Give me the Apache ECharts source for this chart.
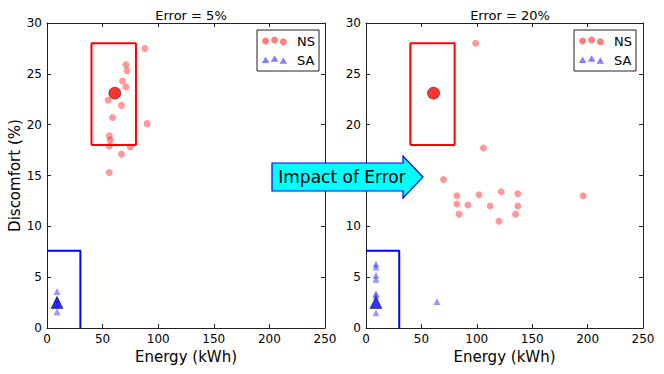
<!DOCTYPE html>
<html>
<head>
<meta charset="utf-8">
<script src="https://cdn.jsdelivr.net/npm/echarts@6/dist/echarts.min.js"></script>
<style>
  html, body { margin: 0; padding: 0; background: #fff; }
  #chart { width: 664px; height: 374px; }
</style>
</head>
<body>
<div id="chart"></div>
<script>
// panel titles / axis names
const titles = ['Error = 5%', 'Error = 20%'];
const xName = 'Energy (kWh)';
const yName = 'Discomfort (%)';

// Error = 5%
const nsLeftE = [88, 71, 72, 68, 71, 55, 67, 59, 90, 56, 57, 56, 75, 67, 56];
const nsLeftD = [27.5, 25.9, 25.3, 24.3, 23.7, 22.4, 21.9, 20.7, 20.1, 18.9, 18.5, 17.9, 17.8, 17.1, 15.3];
const saLeftE = [9, 9, 9, 9];
const saLeftD = [3.6, 2.8, 2.3, 1.6];

// Error = 20%
const nsRightE = [99, 106, 70, 82, 82, 84, 92, 102, 112, 122, 120, 137, 137, 135, 196];
const nsRightD = [28.0, 17.7, 14.6, 13.0, 12.2, 11.2, 12.1, 13.1, 12.0, 13.4, 10.5, 13.2, 12.0, 11.2, 13.0];
const saRightE = [9, 9, 9, 9, 9, 9, 9, 64];
const saRightD = [6.3, 6.0, 5.2, 4.8, 3.4, 3.2, 1.5, 2.6];

// reference points (same in both panels)
const nsRef = [61, 23.1];
const saRef = [9, 2.5];

// comfort boxes
const nsBoxE = [40, 80, 80, 40, 40];
const nsBoxD = [18, 18, 28, 28, 18];
const saBoxE = [0, 30, 30];
const saBoxD = [7.6, 7.6, 0];

// y tick hidden under the arrow on the right panel
const hiddenRightTick = 15;

const zip = (a, b) => a.map((v, i) => [v, b[i]]);

const font = 'DejaVu Sans';
const axisColor = '#222';

function mainX(i) {
  return {
    gridIndex: i, type: 'value', min: 0, max: 250, interval: 50,
    name: xName, nameLocation: 'middle', nameGap: 19,
    nameTextStyle: { fontFamily: font, fontSize: 15, color: '#000' },
    axisLine: { show: true, onZero: false, lineStyle: { color: axisColor } },
    axisTick: { inside: true, length: 4, lineStyle: { color: axisColor } },
    axisLabel: { fontFamily: font, fontSize: 12, color: '#000', margin: 5 },
    splitLine: { show: false }
  };
}
function topX(i) {
  return {
    gridIndex: i, type: 'value', min: 0, max: 250, interval: 50, position: 'top',
    axisLine: { show: true, onZero: false, lineStyle: { color: axisColor } },
    axisTick: { inside: true, length: 4, lineStyle: { color: axisColor } },
    axisLabel: { show: false }, splitLine: { show: false }
  };
}
function mainY(i) {
  return {
    gridIndex: i, type: 'value', min: 0, max: 30, interval: 5,
    name: i === 0 ? yName : '', nameLocation: 'middle', nameGap: 19, nameRotate: 90,
    nameTextStyle: { fontFamily: font, fontSize: 15, color: '#000' },
    axisLine: { show: true, onZero: false, lineStyle: { color: axisColor } },
    axisTick: { inside: true, length: 4, lineStyle: { color: axisColor } },
    axisLabel: {
      fontFamily: font, fontSize: 12, color: '#000', margin: 5,
      formatter: v => (i === 1 && v === hiddenRightTick) ? '' : String(v)
    },
    splitLine: { show: false }
  };
}
function rightY(i) {
  return {
    gridIndex: i, type: 'value', min: 0, max: 30, interval: 5, position: 'right',
    axisLine: { show: true, onZero: false, lineStyle: { color: axisColor } },
    axisTick: { inside: true, length: 4, lineStyle: { color: axisColor } },
    axisLabel: { show: false }, splitLine: { show: false }
  };
}

function panelSeries(g, nsE, nsD, saE, saD) {
  const ax = { xAxisIndex: g * 2, yAxisIndex: g * 2 };
  return [
    Object.assign({ type: 'line', data: zip(nsBoxE, nsBoxD), symbol: 'none', silent: true,
      lineStyle: { color: '#ff0000', width: 2 }, z: 2 }, ax),
    Object.assign({ type: 'line', data: zip(saBoxE, saBoxD), symbol: 'none', silent: true,
      lineStyle: { color: '#0000ff', width: 2 }, z: 2 }, ax),
    Object.assign({ type: 'scatter', data: zip(nsE, nsD), symbol: 'circle', symbolSize: 7,
      itemStyle: { color: 'rgba(255,0,0,0.5)' }, z: 3 }, ax),
    Object.assign({ type: 'scatter', data: zip(saE, saD), symbol: 'triangle', symbolSize: 7,
      itemStyle: { color: 'rgba(0,0,255,0.5)' }, z: 3 }, ax),
    Object.assign({ type: 'scatter', data: [nsRef], symbol: 'circle', symbolSize: 12,
      itemStyle: { color: '#ff0000', borderColor: '#000', borderWidth: 0.6 }, z: 4 }, ax),
    Object.assign({ type: 'scatter', data: [saRef], symbol: 'triangle', symbolSize: 12,
      itemStyle: { color: '#0000ff', borderColor: '#000', borderWidth: 0.6 }, z: 4 }, ax)
  ];
}

function legend(x0) {
  const circ = (x, y) => ({ type: 'circle', shape: { cx: x, cy: y, r: 3.5 }, style: { fill: 'rgba(255,0,0,0.5)' } });
  const tri = (x, y) => ({ type: 'polygon', shape: { points: [[x, y - 3.5], [x + 3.7, y + 3], [x - 3.7, y + 3]] }, style: { fill: 'rgba(0,0,255,0.5)' } });
  return [
    { type: 'rect', shape: { x: x0, y: 30, width: 62, height: 41 }, style: { fill: '#fff', stroke: '#222', lineWidth: 1 }, z: 10 },
    Object.assign(circ(x0 + 8.6, 41), { z: 11 }),
    Object.assign(circ(x0 + 17.6, 40), { z: 11 }),
    Object.assign(circ(x0 + 26.3, 41.7), { z: 11 }),
    Object.assign(tri(x0 + 8.6, 60), { z: 11 }),
    Object.assign(tri(x0 + 17.6, 58.7), { z: 11 }),
    Object.assign(tri(x0 + 26.3, 60.7), { z: 11 }),
    { type: 'text', x: x0 + 40, y: 41, style: { text: 'NS', font: '13px "DejaVu Sans"', fill: '#000', textVerticalAlign: 'middle' }, z: 11 },
    { type: 'text', x: x0 + 40, y: 60, style: { text: 'SA', font: '13px "DejaVu Sans"', fill: '#000', textVerticalAlign: 'middle' }, z: 11 }
  ];
}

const chart = echarts.init(document.getElementById('chart'), null, { renderer: 'svg' });
chart.setOption({
  animation: false,
  backgroundColor: '#fff',
  title: [
    { text: titles[0], left: 186, top: 4, textAlign: 'center', textStyle: { fontFamily: font, fontSize: 13, fontWeight: 'normal', color: '#000' } },
    { text: titles[1], left: 505, top: 4, textAlign: 'center', textStyle: { fontFamily: font, fontSize: 13, fontWeight: 'normal', color: '#000' } }
  ],
  grid: [
    { left: 47, top: 23, width: 278, height: 305 },
    { left: 366, top: 23, width: 277, height: 305 }
  ],
  xAxis: [mainX(0), topX(0), mainX(1), topX(1)],
  yAxis: [mainY(0), rightY(0), mainY(1), rightY(1)],
  series: panelSeries(0, nsLeftE, nsLeftD, saLeftE, saLeftD)
    .concat(panelSeries(1, nsRightE, nsRightD, saRightE, saRightD)),
  graphic: legend(257).concat(legend(574)).concat([
    {
      type: 'polygon', z: 20,
      shape: { points: [[272, 163], [403, 163], [403, 156], [423, 177], [403, 198], [403, 191], [272, 191]] },
      style: { fill: '#00ffff', stroke: '#0000ff', lineWidth: 1.2 }
    },
    {
      type: 'text', z: 21, x: 342, y: 177,
      style: { text: 'Impact of Error', font: '17px "DejaVu Sans"', fill: '#000', textAlign: 'center', textVerticalAlign: 'middle' }
    }
  ])
});
</script>
</body>
</html>
